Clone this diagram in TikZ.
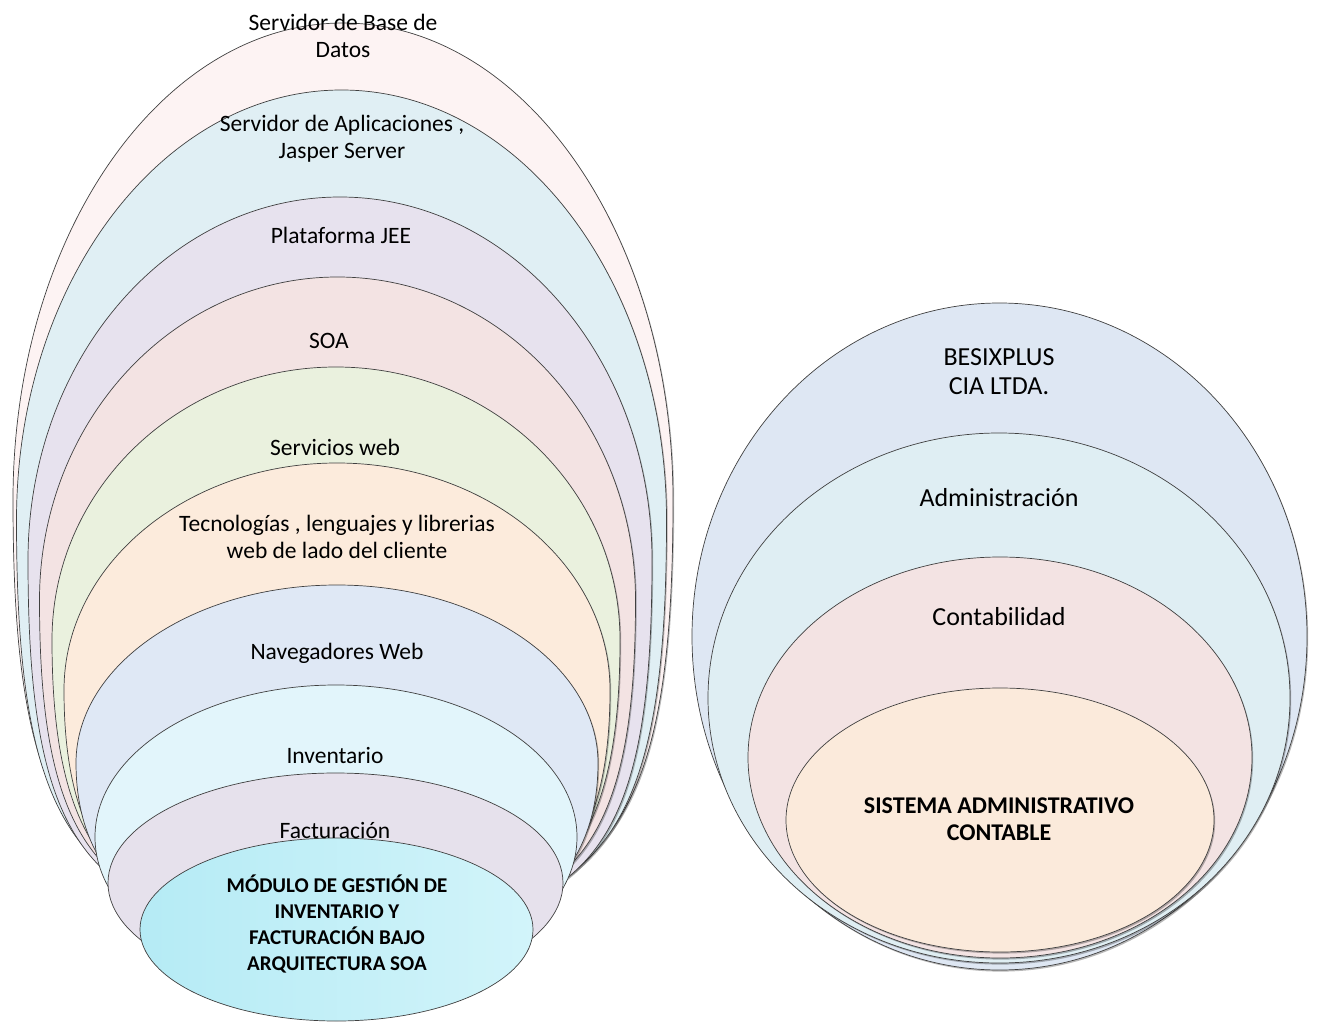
\documentclass[tikz,border=0pt]{standalone}
\usepackage{fontspec}
\setmainfont{Carlito}
\usetikzlibrary{shadows}

\definecolor{ringline}{HTML}{404040}
\definecolor{cBD}{HTML}{FDF3F3}
\definecolor{cAPL}{HTML}{E0EFF4}
\definecolor{cJEE}{HTML}{E7E2EE}
\definecolor{cSOA}{HTML}{F3E3E3}
\definecolor{cSRV}{HTML}{EAF1DE}
\definecolor{cTEC}{HTML}{FCEBDC}
\definecolor{cNAV}{HTML}{DFE8F5}
\definecolor{cINV}{HTML}{E2F5FB}
\definecolor{cFAC}{HTML}{E6E1EC}
\definecolor{cMODa}{HTML}{B5EBF5}
\definecolor{cMODb}{HTML}{D2F4FA}
\definecolor{cBSX}{HTML}{DEE7F3}
\definecolor{cADM}{HTML}{DFEEF3}
\definecolor{cCON}{HTML}{F3E3E3}
\definecolor{cSIS}{HTML}{FBEADB}

\tikzset{
  ring/.style={draw=ringline, line width=0.7pt},
  shadowed/.style={drop shadow={shadow xshift=1.2pt, shadow yshift=-1.6pt, opacity=0.28, fill=black}},
  lbl/.style={font=\fontsize{23.5}{27}\selectfont, align=center, inner sep=0pt, text=black},
  lblr/.style={font=\fontsize{26}{29}\selectfont, align=center, inner sep=0pt, text=black},
  lblb/.style={font=\bfseries\fontsize{21}{26.3}\selectfont, align=center, inner sep=0pt, text=black},
  lblbr/.style={font=\bfseries\fontsize{24}{27}\selectfont, align=center, inner sep=0pt, text=black},
}

% Closed egg-like ring: centre x, half width, top y, widest y, bottom y,
% roundness of the lower half, path options (y measured downwards)
\newcommand{\eggring}[7]{%
  \path[#7] (#1,-#3)
    .. controls ({#1+0.552*#2},-#3) and ({#1+#2},{-#4+0.552*(#4-#3)}) .. ({#1+#2},-#4)
    .. controls ({#1+#2},{-#4-#6*(#5-#4)}) and ({#1+#6*#2},-#5) .. (#1,-#5)
    .. controls ({#1-#6*#2},-#5) and ({#1-#2},{-#4-#6*(#5-#4)}) .. ({#1-#2},-#4)
    .. controls ({#1-#2},{-#4+0.552*(#4-#3)}) and ({#1-0.552*#2},-#3) .. (#1,-#3) -- cycle;}

\begin{document}
\begin{tikzpicture}[x=1pt, y=1pt]
\useasboundingbox (0,0) rectangle (1317,-1022);

% ---- left stack: platform layers, outermost first
\eggring{343}{330}{23}{500}{920}{0.80}{ring, shadowed, fill=cBD}
\eggring{341.5}{325}{90}{520}{925}{0.80}{ring, shadowed, fill=cAPL}
\eggring{340}{312}{197}{560}{930}{0.80}{ring, shadowed, fill=cJEE}
\eggring{337.5}{298}{277}{600}{930}{0.78}{ring, shadowed, fill=cSOA}
\eggring{336}{284}{367}{640}{935}{0.75}{ring, shadowed, fill=cSRV}
\eggring{337}{273}{463}{690}{940}{0.72}{ring, shadowed, fill=cTEC}
\eggring{337}{261}{585}{763}{955}{0.65}{ring, shadowed, fill=cNAV}
\eggring{336}{241}{685}{837}{989}{0.552}{ring, fill=cINV}
\eggring{335.5}{227.5}{773}{883}{993}{0.552}{ring, fill=cFAC}
\eggring{336.5}{196.5}{838}{929.5}{1021}{0.552}{ring, left color=cMODa, right color=cMODb}

\node[lbl] (bd)  at (343,-36)   {Servidor de Base de\\Datos};
\node[lbl] (apl) at (342,-139)  {Servidor de Aplicaciones ,\\Jasper Server};
\node[lbl] (jee) at (341,-235)  {Plataforma JEE};
\node[lbl] (soa) at (329,-341)  {SOA};
\node[lbl] (srv) at (335,-447)  {Servicios web};
\node[lbl] (tec) at (337,-537)  {Tecnologías , lenguajes y librerias\\web de lado del cliente};
\node[lbl] (nav) at (337,-653)  {Navegadores Web};
\node[lbl] (inv) at (335,-755)  {Inventario};
\node[lbl] (fac) at (335,-830)  {Facturación};
\node[lblb] (mod) at (337,-924) {MÓDULO DE GESTIÓN DE\\INVENTARIO Y\\FACTURACIÓN BAJO\\ARQUITECTURA SOA};

% ---- right stack: company areas
\eggring{999.5}{307.5}{303}{636.5}{970}{0.552}{ring, shadowed, fill=cBSX}
\eggring{999}{291}{433}{698}{963}{0.552}{ring, shadowed, fill=cADM}
\eggring{1000}{252}{557}{757.5}{958}{0.552}{ring, shadowed, fill=cCON}
\eggring{1000}{214}{688}{820}{952}{0.552}{ring, shadowed, fill=cSIS}

\node[lblr] (bsx) at (999,-371.5) {BESIXPLUS\\CIA LTDA.};
\node[lblr] (adm) at (999,-498)   {Administración};
\node[lblr] (con) at (999,-617)   {Contabilidad};
\node[lblbr] (sis) at (999,-819.5) {SISTEMA ADMINISTRATIVO\\CONTABLE};
\end{tikzpicture}
\end{document}
